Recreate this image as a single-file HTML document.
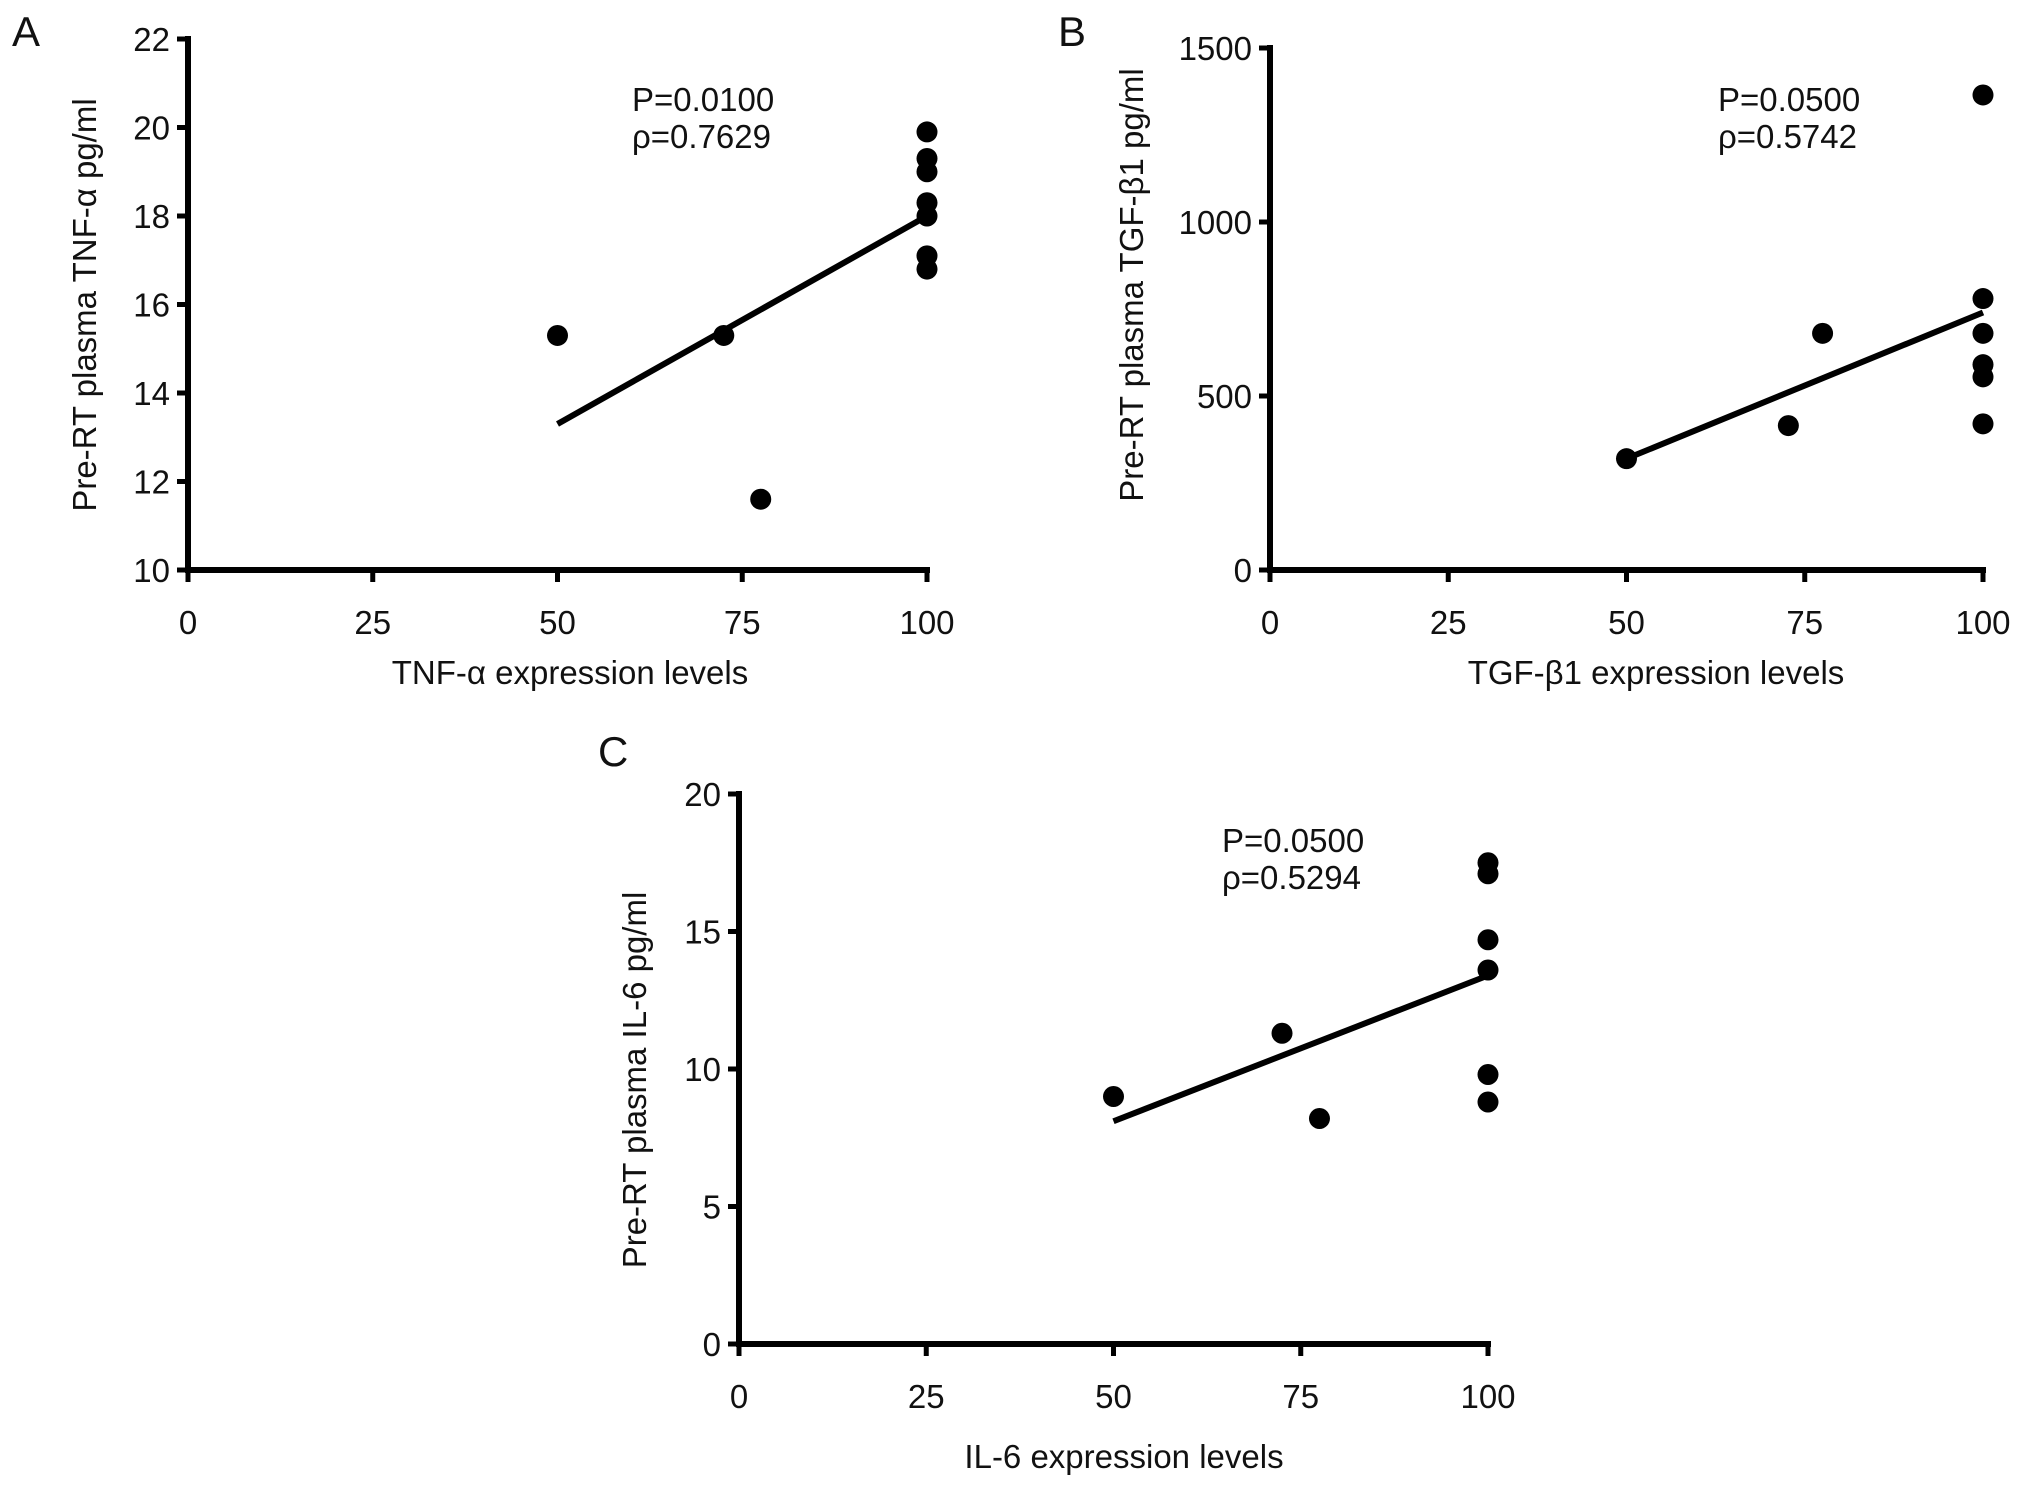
<!DOCTYPE html>
<html><head><meta charset="utf-8"><style>
body{margin:0;background:#fff}
svg text{font-family:"Liberation Sans",sans-serif;fill:#111}
</style></head><body>
<svg id="fig" width="2032" height="1488" viewBox="0 0 2032 1488" xmlns="http://www.w3.org/2000/svg"></svg>
<script>
const aX = [50, 72.5, 77.5, 100, 100, 100, 100, 100, 100, 100];
const aY = [15.3, 15.3, 11.6, 19.9, 19.3, 19.0, 18.3, 18.0, 17.1, 16.8];
const aFit = [13.3, 18.0];
const aYTicks = [10, 12, 14, 16, 18, 20, 22];
const bX = [50, 72.7, 77.5, 100, 100, 100, 100, 100, 100];
const bY = [320, 415, 680, 1365, 780, 680, 590, 555, 420];
const bFit = [320, 740];
const bYTicks = [0, 500, 1000, 1500];
const cX = [50, 72.5, 77.5, 100, 100, 100, 100, 100, 100];
const cY = [9.0, 11.3, 8.2, 17.5, 17.1, 14.7, 13.6, 9.8, 8.8];
const cFit = [8.1, 13.4];
const cYTicks = [0, 5, 10, 15, 20];
const xTicks = [0, 25, 50, 75, 100];
const fitX = [50, 100];

const svg = document.getElementById('fig');
const NS = 'http://www.w3.org/2000/svg';
function mk(tag, attrs, parent){const e=document.createElementNS(NS,tag);for(const k in attrs)e.setAttribute(k,attrs[k]);(parent||svg).appendChild(e);return e;}

function panel(id, letter, P, xs, ys, fit, yTicks, ytitle, xtitle, stats){
  const g = mk('g',{});
  
  
  const ymin=yTicks[0], ymax=yTicks[yTicks.length-1];
  const sx=v=>P.x0+(v-0)/100*(P.x1-P.x0);
  const sy=v=>P.y0-(v-ymin)/(ymax-ymin)*(P.y0-P.y1);
  const lab=mk('text',{x:P.lx,y:P.ly,'font-size':42},g); lab.textContent=letter;
  
  
  const ya=mk('line',{x1:P.x0,y1:sy(ymax)-3,x2:P.x0,y2:P.y0+3,stroke:'#000','stroke-width':6},g);
  
  
  const xa=mk('line',{x1:P.x0-3,y1:P.y0,x2:sx(100)+3,y2:P.y0,stroke:'#000','stroke-width':6},g);
  
  
  yTicks.forEach(t=>{
    mk('line',{x1:P.x0-11,y1:sy(t),x2:P.x0,y2:sy(t),stroke:'#000','stroke-width':5},g);
    const tx=mk('text',{x:P.x0-18,y:sy(t)+12,'font-size':33,'text-anchor':'end'},g); tx.textContent=t;
    
    
  });
  xTicks.forEach(t=>{
    mk('line',{x1:sx(t),y1:P.y0,x2:sx(t),y2:P.y0+12,stroke:'#000','stroke-width':5},g);
    const tx=mk('text',{x:sx(t),y:P.y0+64,'font-size':33,'text-anchor':'middle'},g); tx.textContent=t;
    
    
  });
  const fl=mk('line',{x1:sx(fitX[0]),y1:sy(fit[0]),x2:sx(fitX[1]),y2:sy(fit[1]),stroke:'#000','stroke-width':6},g);
  
  
  xs.forEach((x,i)=>{
    const c=mk('circle',{cx:sx(x),cy:sy(ys[i]),r:10.5,fill:'#000'},g);
    
    
  });
  const yt=mk('text',{x:0,y:0,'font-size':33,'text-anchor':'middle',transform:`translate(${P.ytx},${P.yty}) rotate(-90)`},g); yt.textContent=ytitle;
  
  
  const xt=mk('text',{x:P.xtx,y:P.xty,'font-size':33,'text-anchor':'middle'},g); xt.textContent=xtitle;
  
  
  const s1=mk('text',{x:P.sx,y:P.sy,'font-size':33},g); s1.textContent=stats[0];
  
  
  const s2=mk('text',{x:P.sx,y:P.sy+37,'font-size':33},g); s2.textContent=stats[1];
  
  
}
panel('a','A',{x0:188,x1:927,y0:570,y1:39,lx:12,ly:46,ytx:96,yty:305,xtx:570,xty:684,sx:632,sy:111},
  aX,aY,aFit,aYTicks,'Pre-RT plasma TNF-α pg/ml','TNF-α expression levels',['P=0.0100','ρ=0.7629']);
panel('b','B',{x0:1270,x1:1983,y0:570,y1:48,lx:1058,ly:46,ytx:1143,yty:285,xtx:1656,xty:684,sx:1718,sy:111},
  bX,bY,bFit,bYTicks,'Pre-RT plasma TGF-β1 pg/ml','TGF-β1 expression levels',['P=0.0500','ρ=0.5742']);
panel('c','C',{x0:739,x1:1488,y0:1344,y1:794,lx:598,ly:766,ytx:646,yty:1080,xtx:1124,xty:1468,sx:1222,sy:852},
  cX,cY,cFit,cYTicks,'Pre-RT plasma IL-6 pg/ml','IL-6 expression levels',['P=0.0500','ρ=0.5294']);
</script>
</body></html>
